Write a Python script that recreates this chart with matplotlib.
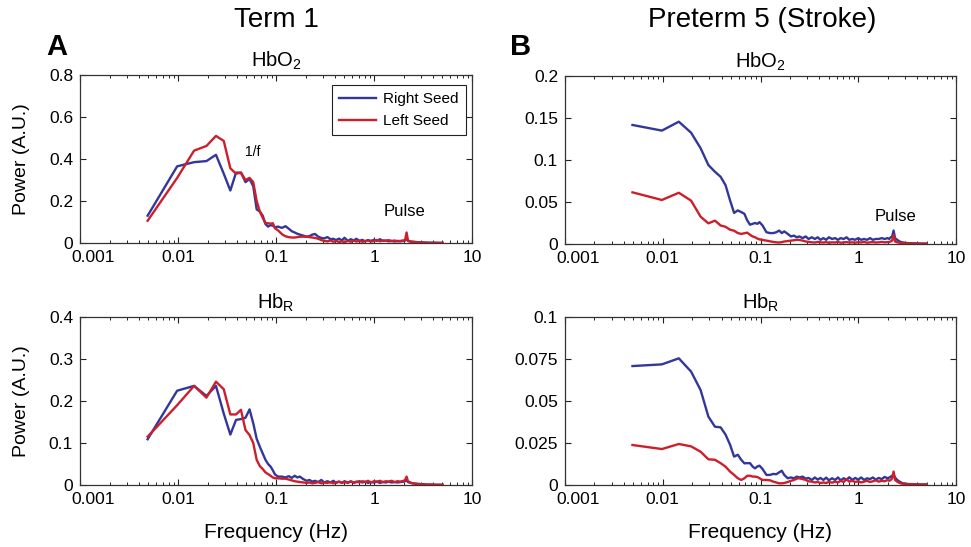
import matplotlib
matplotlib.use('Agg')
import matplotlib.pyplot as plt
from matplotlib.ticker import FixedLocator, FixedFormatter, LogLocator, NullFormatter
from matplotlib.transforms import ScaledTranslation

plt.rcParams['font.family'] = ['Liberation Sans', 'DejaVu Sans']
plt.rcParams['mathtext.fontset'] = 'custom'
plt.rcParams['mathtext.rm'] = 'Liberation Sans'
plt.rcParams['mathtext.it'] = 'Liberation Sans:italic'

# frequency bins (Hz), shared by every spectrum
freq = [0.0049, 0.0098, 0.0146, 0.0195, 0.0244, 0.0293, 0.0342, 0.0391, 0.0439, 0.0488,
        0.0537, 0.0586, 0.0635, 0.0684, 0.0732, 0.0781, 0.083, 0.0879, 0.0928, 0.0977,
        0.105, 0.115, 0.125, 0.135, 0.145, 0.155, 0.165, 0.175, 0.19, 0.205,
        0.22, 0.235, 0.25, 0.27, 0.29, 0.31, 0.335, 0.36, 0.385, 0.41,
        0.44, 0.47, 0.5, 0.54, 0.58, 0.62, 0.66, 0.71, 0.76, 0.81,
        0.87, 0.93, 1.0, 1.07, 1.15, 1.23, 1.32, 1.41, 1.51, 1.62,
        1.74, 1.86, 2.0, 2.08, 2.15, 2.22, 2.3, 2.38, 2.5, 2.65,
        2.8, 3.0, 3.2, 3.45, 3.7, 4.0, 4.3, 4.6, 5.0]

# Term 1, HbO2
term_hbo_right = [0.13, 0.365, 0.385, 0.39, 0.42, 0.33, 0.25, 0.335, 0.335, 0.29,
                  0.305, 0.27, 0.16, 0.15, 0.13, 0.09, 0.078, 0.085, 0.083, 0.075,
                  0.078, 0.072, 0.08, 0.068, 0.056, 0.05, 0.044, 0.04, 0.035, 0.03,
                  0.033, 0.04, 0.043, 0.03, 0.024, 0.022, 0.028, 0.018, 0.02, 0.014,
                  0.021, 0.012, 0.025, 0.01, 0.018, 0.012, 0.02, 0.01, 0.015, 0.008,
                  0.014, 0.01, 0.015, 0.01, 0.018, 0.01, 0.012, 0.008, 0.01, 0.007,
                  0.01, 0.008, 0.01, 0.012, 0.02, 0.01, 0.008, 0.007, 0.006, 0.005,
                  0.004, 0.003, 0.002, 0.002, 0.001, 0.001, 0.001, 0.0005, 0.0005]
term_hbo_left = [0.106, 0.31, 0.44, 0.462, 0.51, 0.486, 0.356, 0.33, 0.335, 0.30,
                 0.31, 0.29, 0.2, 0.15, 0.12, 0.095, 0.094, 0.092, 0.094, 0.07,
                 0.06, 0.042, 0.032, 0.028, 0.026, 0.026, 0.028, 0.03, 0.03, 0.03,
                 0.028, 0.026, 0.024, 0.02, 0.014, 0.01, 0.008, 0.012, 0.006, 0.01,
                 0.005, 0.008, 0.004, 0.01, 0.006, 0.012, 0.007, 0.01, 0.006, 0.009,
                 0.012, 0.007, 0.01, 0.015, 0.008, 0.012, 0.01, 0.014, 0.009, 0.012,
                 0.008, 0.01, 0.012, 0.015, 0.05, 0.012, 0.008, 0.006, 0.005, 0.004,
                 0.003, 0.003, 0.002, 0.001, 0.001, 0.001, 0.0005, 0.0005, 0.0005]

# Term 1, HbR
term_hbr_right = [0.109, 0.2245, 0.236, 0.212, 0.236, 0.17, 0.12, 0.155, 0.157, 0.16,
                  0.18, 0.147, 0.11, 0.091, 0.075, 0.06, 0.05, 0.044, 0.035, 0.025,
                  0.02, 0.02, 0.018, 0.021, 0.017, 0.022, 0.018, 0.02, 0.014, 0.01,
                  0.012, 0.008, 0.01, 0.007, 0.012, 0.006, 0.009, 0.006, 0.01, 0.005,
                  0.008, 0.005, 0.009, 0.006, 0.008, 0.005, 0.007, 0.009, 0.006, 0.008,
                  0.005, 0.007, 0.006, 0.008, 0.005, 0.007, 0.006, 0.008, 0.006, 0.007,
                  0.006, 0.007, 0.008, 0.009, 0.012, 0.007, 0.006, 0.005, 0.004, 0.003,
                  0.003, 0.002, 0.002, 0.001, 0.001, 0.001, 0.0005, 0.0005, 0.0005]
term_hbr_left = [0.115, 0.19, 0.236, 0.208, 0.246, 0.228, 0.168, 0.168, 0.179, 0.131,
                 0.119, 0.1, 0.06, 0.045, 0.038, 0.03, 0.026, 0.022, 0.018, 0.016,
                 0.016, 0.015, 0.015, 0.013, 0.011, 0.009, 0.008, 0.007, 0.006, 0.005,
                 0.006, 0.004, 0.005, 0.007, 0.004, 0.006, 0.005, 0.007, 0.004, 0.006,
                 0.008, 0.005, 0.007, 0.005, 0.009, 0.006, 0.008, 0.006, 0.009, 0.007,
                 0.01, 0.006, 0.009, 0.008, 0.01, 0.007, 0.009, 0.008, 0.01, 0.007,
                 0.009, 0.008, 0.01, 0.012, 0.02, 0.009, 0.007, 0.005, 0.004, 0.003,
                 0.002, 0.002, 0.001, 0.001, 0.001, 0.0005, 0.0005, 0.0005, 0.0005]

# Preterm 5 (stroke), HbO2
pre_hbo_right = [0.1417, 0.135, 0.1456, 0.1325, 0.114, 0.094, 0.086, 0.08, 0.07, 0.052,
                 0.037, 0.04, 0.038, 0.036, 0.028, 0.023, 0.024, 0.025, 0.024, 0.026,
                 0.022, 0.014, 0.013, 0.013, 0.014, 0.016, 0.013, 0.015, 0.012, 0.009,
                 0.01, 0.008, 0.009, 0.007, 0.009, 0.006, 0.008, 0.006, 0.008, 0.005,
                 0.007, 0.005, 0.008, 0.006, 0.007, 0.005, 0.007, 0.006, 0.008, 0.005,
                 0.006, 0.005, 0.007, 0.005, 0.006, 0.005, 0.007, 0.005, 0.006, 0.006,
                 0.007, 0.006, 0.007, 0.006, 0.008, 0.009, 0.016, 0.007, 0.005, 0.003,
                 0.002, 0.0015, 0.001, 0.001, 0.0008, 0.0006, 0.0005, 0.0005, 0.0005]
pre_hbo_left = [0.0615, 0.0524, 0.061, 0.0516, 0.0325, 0.0246, 0.0278, 0.022, 0.0205, 0.017,
                0.0158, 0.013, 0.012, 0.0128, 0.0135, 0.011, 0.009, 0.008, 0.0065, 0.0055,
                0.0048, 0.004, 0.0032, 0.0025, 0.002, 0.0018, 0.0022, 0.003, 0.0035, 0.004,
                0.0045, 0.005, 0.0048, 0.004, 0.003, 0.0025, 0.002, 0.0018, 0.0025, 0.002,
                0.0018, 0.0022, 0.0015, 0.002, 0.0018, 0.0025, 0.0015, 0.002, 0.0022, 0.0018,
                0.002, 0.0015, 0.0022, 0.0018, 0.0025, 0.0015, 0.002, 0.0022, 0.0018, 0.002,
                0.0025, 0.002, 0.0022, 0.0025, 0.003, 0.004, 0.0107, 0.003, 0.002, 0.0015,
                0.001, 0.0008, 0.0006, 0.0005, 0.0005, 0.0004, 0.0004, 0.0003, 0.0003]

# Preterm 5 (stroke), HbR
pre_hbr_right = [0.0708, 0.0718, 0.0754, 0.0675, 0.0565, 0.0407, 0.0347, 0.0343, 0.03, 0.024,
                 0.0169, 0.018, 0.015, 0.0129, 0.013, 0.013, 0.011, 0.0099, 0.011, 0.0115,
                 0.0095, 0.006, 0.006, 0.0066, 0.0064, 0.0075, 0.0085, 0.006, 0.004, 0.0045,
                 0.004, 0.005, 0.0045, 0.005, 0.0038, 0.0042, 0.003, 0.0045, 0.0032, 0.0042,
                 0.003, 0.0044, 0.0028, 0.004, 0.003, 0.0045, 0.0028, 0.004, 0.0032, 0.0046,
                 0.003, 0.0042, 0.0032, 0.0045, 0.003, 0.004, 0.0035, 0.0045, 0.0032, 0.0042,
                 0.0035, 0.0048, 0.004, 0.0045, 0.005, 0.0055, 0.006, 0.0045, 0.003, 0.002,
                 0.0012, 0.0008, 0.0006, 0.0005, 0.0004, 0.0004, 0.0003, 0.0003, 0.0003]
pre_hbr_left = [0.0238, 0.0214, 0.0244, 0.023, 0.0198, 0.0153, 0.015, 0.013, 0.0109, 0.008,
                0.006, 0.004, 0.003, 0.004, 0.0055, 0.0055, 0.005, 0.005, 0.0048, 0.004,
                0.003, 0.003, 0.0028, 0.002, 0.0015, 0.001, 0.001, 0.0012, 0.0018, 0.0025,
                0.003, 0.0038, 0.004, 0.0035, 0.003, 0.0022, 0.002, 0.0015, 0.0018, 0.0012,
                0.0015, 0.0012, 0.0018, 0.0014, 0.002, 0.0015, 0.0025, 0.0018, 0.0035, 0.002,
                0.0025, 0.0018, 0.0022, 0.0015, 0.002, 0.0025, 0.0018, 0.0022, 0.0028, 0.002,
                0.0025, 0.0022, 0.003, 0.0025, 0.003, 0.004, 0.008, 0.003, 0.002, 0.0012,
                0.0008, 0.0006, 0.0005, 0.0004, 0.0004, 0.0003, 0.0003, 0.0003, 0.0003]

x_ticks = [0.001, 0.01, 0.1, 1, 10]
x_labels = ['0.001', '0.01', '0.1', '1', '10']
y_ticks_term_hbo = [0, 0.2, 0.4, 0.6, 0.8]
y_ticks_term_hbr = [0, 0.1, 0.2, 0.3, 0.4]
y_ticks_pre_hbo = [0, 0.05, 0.1, 0.15, 0.2]
y_ticks_pre_hbr = [0, 0.025, 0.05, 0.075, 0.1]

blue = '#33379a'
red = '#cc1f2c'

fig = plt.figure(figsize=(9.71, 5.47), dpi=100)
W, H = 971.0, 547.0

def make_ax(x0, x1, y0, y1):
    # pixel box -> figure fraction
    return fig.add_axes([x0 / W, 1 - y1 / H, (x1 - x0) / W, (y1 - y0) / H])

ax_tl = make_ax(80, 472, 75, 243)
ax_tr = make_ax(565, 956, 76, 244)
ax_bl = make_ax(80, 472, 317, 485)
ax_br = make_ax(565, 956, 317, 485)

panels = [
    (ax_tl, term_hbo_right, term_hbo_left, y_ticks_term_hbo, 'HbO$_2$'),
    (ax_tr, pre_hbo_right, pre_hbo_left, y_ticks_pre_hbo, 'HbO$_2$'),
    (ax_bl, term_hbr_right, term_hbr_left, y_ticks_term_hbr, 'Hb$_\\mathregular{R}$'),
    (ax_br, pre_hbr_right, pre_hbr_left, y_ticks_pre_hbr, 'Hb$_\\mathregular{R}$'),
]

for ax, right, left, yt, title in panels:
    ax.plot(freq, right, color=blue, lw=1.7, label='Right Seed')
    ax.plot(freq, left, color=red, lw=1.7, label='Left Seed')
    ax.set_xscale('log')
    ax.set_xlim(0.001, 10)
    ax.set_ylim(yt[0], yt[-1])
    ax.xaxis.set_major_locator(FixedLocator(x_ticks))
    ax.xaxis.set_major_formatter(FixedFormatter(x_labels))
    ax.xaxis.set_minor_locator(LogLocator(base=10, subs=range(2, 10), numticks=20))
    ax.xaxis.set_minor_formatter(NullFormatter())
    ax.set_yticks(yt)
    ax.set_yticklabels(['%g' % v for v in yt])
    ax.tick_params(which='both', direction='in', top=True, right=True,
                   labelsize=12.5, color='#222222', pad=5)
    ax.tick_params(which='major', length=4, width=0.8)
    ax.tick_params(which='minor', length=2.5, width=0.7)
    for s in ax.spines.values():
        s.set_color('#333333')
        s.set_linewidth(0.9)
    ax.set_title(title, fontsize=14.5, pad=6)
    # first x label sits a bit right of its tick in the original
    lab = ax.get_xticklabels()[0]
    lab.set_transform(lab.get_transform() + ScaledTranslation(0.13, 0, fig.dpi_scale_trans))

for ax in (ax_tl, ax_bl):
    ax.set_ylabel('Power (A.U.)', fontsize=14)
    ax.yaxis.set_label_coords(-0.128, 0.5)
for ax in (ax_bl, ax_br):
    ax.set_xlabel('Frequency (Hz)', fontsize=15)
    ax.xaxis.set_label_coords(0.5, -0.225)

leg = ax_tl.legend(loc='upper left', bbox_to_anchor=(0.643, 0.94), fontsize=11,
                   handlelength=2.4, handletextpad=0.5, fancybox=False, framealpha=1,
                   borderpad=0.45, labelspacing=0.55, borderaxespad=0)
leg.get_frame().set_edgecolor('#222222')
leg.get_frame().set_linewidth(0.8)

ax_tl.text(0.058, 0.433, '1/f', fontsize=10, ha='center', va='center')
ax_tl.text(2.07, 0.148, 'Pulse', fontsize=12, ha='center', va='center')
ax_tr.text(2.38, 0.0333, 'Pulse', fontsize=12, ha='center', va='center')

fig.text(276 / W, 1 - 20 / H, 'Term 1', fontsize=20, ha='center', va='center')
fig.text(762 / W, 1 - 20 / H, 'Preterm 5 (Stroke)', fontsize=20, ha='center', va='center')
fig.text(57 / W, 1 - 47 / H, 'A', fontsize=21, fontweight='bold', ha='center', va='center')
fig.text(521 / W, 1 - 47 / H, 'B', fontsize=21, fontweight='bold', ha='center', va='center')

fig.savefig('out.png', dpi=100)
